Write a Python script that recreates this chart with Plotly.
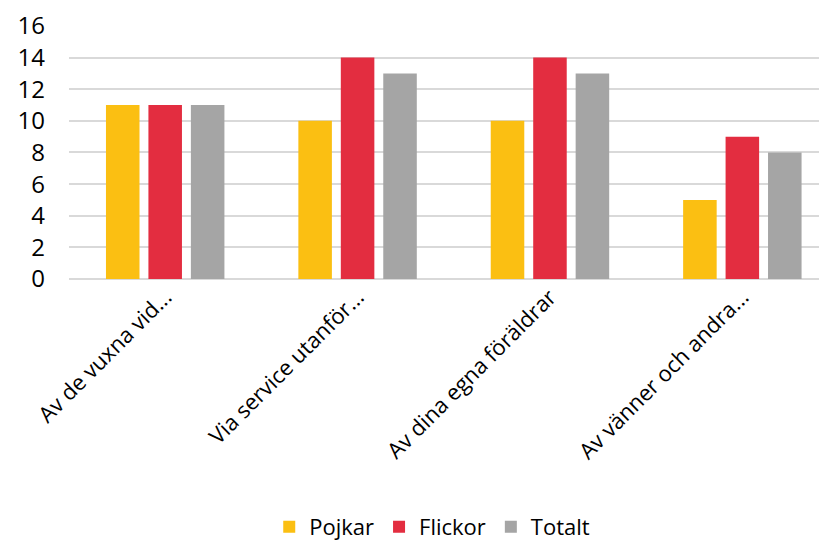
import plotly.graph_objects as go

categories = ["Av de vuxna vid...", "Via service utanför...", "Av dina egna föräldrar", "Av vänner och andra..."]
pojkar = [11, 10, 10, 5]
flickor = [11, 14, 14, 9]
totalt = [11, 13, 13, 8]
y_ticks = [0, 2, 4, 6, 8, 10, 12, 14, 16]

colors = {"Pojkar": "#FBBF12", "Flickor": "#E32D40", "Totalt": "#A5A5A5"}

fig = go.Figure()
for name, vals in [("Pojkar", pojkar), ("Flickor", flickor), ("Totalt", totalt)]:
    fig.add_trace(go.Bar(x=categories, y=vals, name=name, marker_color=colors[name],
                         marker_line_width=0))

font_family = "Open Sans, Liberation Sans, sans-serif"
fig.update_layout(
    width=819, height=534,
    margin=dict(l=61, r=0, t=15, b=263),
    paper_bgcolor="white", plot_bgcolor="white",
    barmode="group", bargap=0.338, bargroupgap=0.21,
    font=dict(family=font_family, size=20, color="#000000"),
    legend=dict(orientation="h", xref="container", yref="container",
                x=0.518, xanchor="center", y=0.028, yanchor="middle",
                font=dict(size=22), traceorder="normal"),
    xaxis=dict(range=[-0.5, 3.44], tickangle=-45, tickfont=dict(size=22),
               showgrid=False, showline=False, ticks=""),
    yaxis=dict(range=[0, 16.0625], tickvals=y_ticks, showgrid=True, gridcolor="#D9D9D9",
               gridwidth=1.5, zeroline=True, zerolinecolor="#D9D9D9", zerolinewidth=1.5,
               showline=False, tickfont=dict(size=24), ticklabelstandoff=23,
               ticklabeloverflow="allow"),
)

fig.write_html("out.html")
